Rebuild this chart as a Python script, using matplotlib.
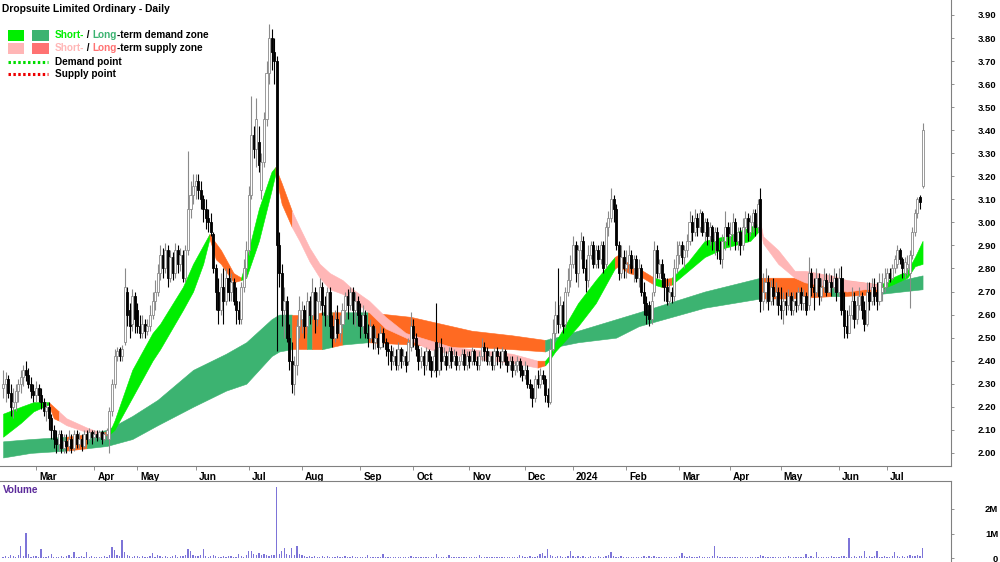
import matplotlib
matplotlib.use('Agg')
import matplotlib.pyplot as plt
import numpy as np
from matplotlib.lines import Line2D
from matplotlib.patches import Rectangle
import matplotlib.transforms as mtransforms

plt.rcParams['font.family'] = ['Liberation Sans', 'DejaVu Sans']

# ---------------- data ----------------
month_labels = ['', 'Mar', 'Apr', 'May', 'Jun', 'Jul', 'Aug', 'Sep', 'Oct', 'Nov', 'Dec',
                '2024', 'Feb', 'Mar', 'Apr', 'May', 'Jun', 'Jul']
month_days = [13, 23, 17, 23, 21, 21, 23, 21, 22, 22, 19, 21, 21, 20, 20, 23, 19, 15]

opens = [
    2.28,2.30,2.32,2.26,2.20,2.22,2.27,2.30,2.33,2.36,2.34,2.30,2.27,
    2.25,2.28,2.25,2.22,2.18,2.20,2.15,2.10,2.06,2.04,2.08,2.02,2.05,2.03,2.06,2.02,2.08,2.04,2.06,2.03,2.08,2.06,2.09,
    2.07,2.08,2.07,2.09,2.06,2.08,2.06,2.18,2.30,2.42,2.45,2.42,2.48,2.70,2.62,2.56,2.68,
    2.62,2.55,2.52,2.56,2.53,2.55,2.60,2.66,2.70,2.78,2.86,2.80,2.88,2.76,2.85,2.78,2.88,2.82,2.86,2.76,2.88,3.06,3.12,
    3.16,3.18,3.14,3.10,3.06,3.02,3.00,2.95,2.80,2.70,2.62,2.72,2.66,2.76,2.70,2.74,2.66,2.62,2.58,2.72,2.80,
    2.88,3.12,3.38,3.32,3.35,3.14,3.26,3.45,3.65,3.80,3.74,3.70,2.90,2.78,2.62,2.66,2.50,2.40,2.30,2.38,2.55,
    2.58,2.62,2.55,2.66,2.60,2.70,2.58,2.66,2.72,2.64,2.60,2.70,2.55,2.50,2.58,2.52,2.56,2.62,2.68,2.64,2.70,2.62,2.66,
    2.60,2.55,2.60,2.52,2.50,2.55,2.48,2.50,2.46,2.52,2.48,2.45,2.44,2.40,2.42,2.38,2.45,2.40,2.42,2.40,2.46,
    2.55,2.50,2.45,2.40,2.42,2.38,2.44,2.40,2.36,2.48,2.36,2.46,2.40,2.42,2.38,2.44,2.40,2.42,2.38,2.40,2.43,2.38,
    2.42,2.40,2.44,2.40,2.38,2.42,2.46,2.44,2.40,2.42,2.38,2.44,2.42,2.40,2.44,2.40,2.38,2.40,2.36,2.38,2.40,2.36,
    2.34,2.36,2.30,2.28,2.24,2.32,2.30,2.34,2.32,2.25,2.22,2.45,2.52,2.60,2.56,2.64,2.56,2.70,2.75,
    2.82,2.90,2.78,2.88,2.92,2.80,2.75,2.86,2.90,2.82,2.88,2.84,2.90,2.82,2.98,3.02,3.10,3.06,2.90,2.78,2.85,
    2.80,2.82,2.86,2.80,2.84,2.76,2.80,2.70,2.65,2.64,2.58,2.70,2.88,2.78,2.82,2.76,2.72,2.66,2.70,2.68,2.80,
    2.86,2.90,2.85,2.88,2.92,3.00,2.96,3.02,2.98,3.04,2.96,3.00,2.94,2.98,2.92,2.96,2.88,2.84,2.92,2.98,
    2.94,2.95,3.00,2.92,2.96,2.90,2.98,3.02,2.96,3.00,3.04,2.98,3.10,2.66,2.70,2.74,2.66,2.72,2.68,2.70,
    2.64,2.62,2.66,2.64,2.68,2.62,2.66,2.64,2.70,2.65,2.68,2.64,2.78,2.72,2.70,2.76,2.68,2.72,2.75,2.70,2.74,2.72,2.76,
    2.70,2.76,2.62,2.55,2.52,2.60,2.66,2.58,2.64,2.68,2.62,2.56,2.70,2.66,2.72,2.70,2.66,2.70,2.72,
    2.74,2.78,2.76,2.80,2.82,2.88,2.84,2.78,2.80,2.78,2.86,2.96,3.04,3.11,3.16,
]
highs = [
    2.36,2.35,2.34,2.30,2.28,2.30,2.32,2.36,2.38,2.40,2.37,2.33,2.30,
    2.31,2.30,2.28,2.24,2.22,2.22,2.17,2.12,2.10,2.10,2.10,2.08,2.08,2.10,2.08,2.10,2.10,2.09,2.08,2.10,2.10,2.11,2.10,
    2.10,2.10,2.10,2.10,2.09,2.11,2.20,2.32,2.45,2.46,2.46,2.47,2.80,2.72,2.65,2.71,2.70,
    2.65,2.60,2.60,2.58,2.58,2.64,2.70,2.75,2.82,2.90,2.89,2.91,2.90,2.88,2.87,2.91,2.90,2.89,2.88,2.90,3.31,3.18,3.21,
    3.21,3.21,3.18,3.12,3.10,3.06,3.04,2.96,2.82,2.76,2.78,2.80,2.80,2.80,2.78,2.76,2.72,2.66,2.74,2.84,2.92,
    3.16,3.55,3.42,3.54,3.42,3.30,3.48,3.70,3.86,3.84,3.80,3.72,2.96,2.82,2.72,2.68,2.56,2.48,2.42,2.58,2.68,
    2.66,2.64,2.70,2.68,2.76,2.72,2.70,2.76,2.74,2.68,2.72,2.72,2.60,2.62,2.64,2.60,2.65,2.70,2.71,2.72,2.72,2.70,2.68,
    2.65,2.64,2.62,2.56,2.58,2.56,2.54,2.52,2.55,2.54,2.50,2.48,2.47,2.46,2.45,2.48,2.46,2.45,2.44,2.50,2.61,
    2.58,2.52,2.47,2.46,2.44,2.46,2.45,2.42,2.45,2.65,2.48,2.50,2.46,2.44,2.46,2.46,2.45,2.44,2.42,2.45,2.45,2.44,
    2.44,2.46,2.45,2.42,2.44,2.50,2.48,2.46,2.44,2.44,2.46,2.46,2.44,2.46,2.45,2.42,2.42,2.42,2.40,2.42,2.41,2.38,
    2.40,2.38,2.32,2.30,2.34,2.36,2.37,2.36,2.34,2.28,2.50,2.58,2.66,2.80,2.68,2.66,2.72,2.80,2.86,
    2.94,2.92,2.90,2.96,2.94,2.84,2.90,2.92,2.92,2.90,2.90,2.92,2.92,3.00,3.05,3.15,3.12,3.08,2.92,2.90,2.88,
    2.88,2.90,2.88,2.86,2.86,2.84,2.82,2.74,2.68,2.66,2.70,2.92,2.90,2.84,2.84,2.78,2.76,2.74,2.72,2.84,2.92,
    2.92,2.92,2.90,2.95,3.05,3.03,3.06,3.04,3.06,3.05,3.02,3.02,3.00,2.99,2.98,2.98,2.92,2.95,3.05,3.00,
    3.00,3.04,3.02,2.98,2.98,3.02,3.05,3.04,3.03,3.06,3.06,3.10,3.15,2.78,2.80,2.77,2.75,2.76,2.74,2.72,
    2.72,2.70,2.70,2.71,2.70,2.70,2.70,2.72,2.72,2.71,2.70,2.85,2.80,2.76,2.80,2.78,2.76,2.80,2.78,2.78,2.77,2.80,2.78,
    2.80,2.81,2.70,2.62,2.64,2.72,2.70,2.68,2.72,2.70,2.66,2.74,2.74,2.76,2.76,2.74,2.78,2.78,2.80,
    2.80,2.80,2.82,2.86,2.90,2.89,2.85,2.85,2.86,2.88,2.98,3.06,3.11,3.12,3.43,
]
lows = [
    2.24,2.22,2.24,2.16,2.15,2.18,2.22,2.26,2.29,2.31,2.28,2.24,2.22,
    2.22,2.22,2.19,2.16,2.14,2.10,2.06,2.02,2.00,2.01,2.00,2.00,2.00,2.01,2.00,2.01,2.02,2.02,2.01,2.02,2.04,2.05,2.04,
    2.05,2.05,2.06,2.04,2.05,2.06,2.00,2.16,2.28,2.40,2.40,2.40,2.47,2.55,2.50,2.53,2.52,
    2.52,2.50,2.50,2.50,2.51,2.53,2.58,2.62,2.68,2.75,2.76,2.78,2.72,2.74,2.75,2.76,2.78,2.79,2.74,2.74,2.86,3.02,3.08,
    3.10,3.10,3.06,3.00,2.97,2.96,2.94,2.78,2.62,2.56,2.60,2.56,2.64,2.66,2.66,2.64,2.56,2.56,2.56,2.70,2.76,
    2.86,3.10,3.28,3.24,3.22,3.10,3.24,3.42,3.60,3.66,3.60,2.44,2.72,2.55,2.50,2.48,2.36,2.26,2.25,2.34,2.50,
    2.52,2.50,2.52,2.56,2.58,2.52,2.55,2.62,2.60,2.55,2.58,2.50,2.46,2.48,2.50,2.48,2.54,2.58,2.58,2.62,2.56,2.55,2.55,
    2.50,2.52,2.50,2.46,2.48,2.45,2.45,2.43,2.45,2.46,2.42,2.38,2.36,2.38,2.36,2.36,2.37,2.38,2.35,2.38,2.44,
    2.46,2.42,2.36,2.37,2.34,2.36,2.36,2.33,2.35,2.33,2.34,2.36,2.38,2.36,2.37,2.37,2.38,2.36,2.36,2.38,2.36,2.36,
    2.37,2.38,2.38,2.36,2.36,2.40,2.40,2.38,2.38,2.36,2.36,2.38,2.37,2.38,2.38,2.35,2.36,2.33,2.34,2.35,2.33,2.31,
    2.32,2.28,2.24,2.20,2.22,2.28,2.28,2.30,2.22,2.20,2.21,2.44,2.50,2.52,2.54,2.52,2.54,2.68,2.72,
    2.80,2.74,2.72,2.84,2.78,2.70,2.72,2.84,2.80,2.80,2.80,2.82,2.78,2.80,2.94,3.00,3.00,2.88,2.75,2.76,2.76,
    2.76,2.78,2.78,2.74,2.74,2.72,2.68,2.60,2.56,2.55,2.56,2.68,2.76,2.76,2.72,2.66,2.64,2.64,2.65,2.66,2.78,
    2.82,2.82,2.80,2.85,2.90,2.92,2.94,2.94,2.96,2.94,2.92,2.90,2.90,2.88,2.86,2.84,2.82,2.80,2.88,2.90,
    2.88,2.92,2.88,2.88,2.86,2.88,2.95,2.92,2.94,2.96,2.94,2.96,2.61,2.62,2.65,2.62,2.64,2.64,2.64,2.60,
    2.58,2.56,2.60,2.62,2.60,2.60,2.61,2.62,2.62,2.62,2.60,2.62,2.68,2.62,2.68,2.64,2.66,2.70,2.68,2.70,2.68,2.70,2.66,
    2.68,2.60,2.50,2.50,2.52,2.58,2.54,2.56,2.62,2.58,2.53,2.55,2.62,2.64,2.64,2.62,2.64,2.66,2.70,
    2.72,2.74,2.75,2.78,2.80,2.82,2.76,2.76,2.77,2.63,2.84,2.94,3.02,3.06,3.15,
]
closes = [
    2.30,2.32,2.26,2.20,2.22,2.27,2.30,2.33,2.36,2.34,2.30,2.27,2.25,
    2.28,2.25,2.22,2.18,2.20,2.15,2.10,2.06,2.04,2.08,2.02,2.05,2.03,2.06,2.02,2.08,2.04,2.06,2.03,2.08,2.06,2.09,2.07,
    2.08,2.07,2.09,2.06,2.08,2.10,2.18,2.30,2.42,2.44,2.42,2.45,2.72,2.60,2.55,2.68,2.58,
    2.55,2.52,2.56,2.53,2.55,2.60,2.66,2.70,2.78,2.86,2.80,2.88,2.76,2.85,2.78,2.88,2.82,2.86,2.76,2.88,3.06,3.12,3.16,
    3.18,3.14,3.10,3.06,3.02,3.00,2.96,2.80,2.70,2.62,2.72,2.66,2.76,2.70,2.74,2.66,2.62,2.58,2.72,2.80,2.88,
    3.12,3.38,3.32,3.45,3.25,3.26,3.45,3.65,3.80,3.74,3.70,2.90,2.78,2.62,2.66,2.50,2.40,2.30,2.38,2.55,2.62,
    2.62,2.55,2.66,2.60,2.70,2.58,2.66,2.72,2.64,2.60,2.70,2.55,2.50,2.58,2.52,2.56,2.62,2.68,2.64,2.70,2.62,2.66,2.60,
    2.55,2.60,2.52,2.50,2.55,2.48,2.50,2.46,2.52,2.48,2.45,2.44,2.40,2.42,2.38,2.45,2.40,2.42,2.38,2.48,2.55,
    2.50,2.45,2.40,2.42,2.38,2.44,2.40,2.36,2.42,2.36,2.46,2.40,2.42,2.38,2.44,2.40,2.42,2.38,2.40,2.43,2.38,2.42,
    2.40,2.44,2.40,2.38,2.42,2.46,2.44,2.40,2.42,2.38,2.44,2.42,2.40,2.44,2.40,2.38,2.40,2.36,2.38,2.40,2.36,2.34,
    2.36,2.30,2.28,2.24,2.32,2.30,2.34,2.32,2.25,2.22,2.45,2.52,2.60,2.56,2.64,2.55,2.70,2.75,2.82,
    2.90,2.78,2.88,2.92,2.80,2.75,2.86,2.90,2.82,2.88,2.84,2.90,2.80,2.98,3.02,3.10,3.06,2.90,2.78,2.85,2.80,
    2.82,2.86,2.80,2.84,2.76,2.80,2.70,2.65,2.60,2.58,2.66,2.88,2.78,2.82,2.76,2.72,2.66,2.70,2.68,2.80,2.86,
    2.90,2.85,2.88,2.92,3.00,2.96,3.02,2.98,3.04,2.96,3.00,2.94,2.98,2.92,2.96,2.88,2.84,2.92,2.98,2.94,
    2.95,3.00,2.92,2.96,2.90,2.98,3.02,2.96,3.00,3.04,2.98,3.08,2.66,2.70,2.74,2.66,2.72,2.68,2.70,2.64,
    2.62,2.66,2.64,2.68,2.62,2.66,2.64,2.70,2.65,2.68,2.62,2.78,2.72,2.70,2.76,2.68,2.72,2.75,2.70,2.74,2.72,2.76,2.70,
    2.76,2.62,2.55,2.52,2.60,2.66,2.58,2.64,2.68,2.62,2.56,2.70,2.66,2.72,2.68,2.66,2.74,2.72,2.76,
    2.78,2.76,2.80,2.84,2.88,2.84,2.80,2.83,2.82,2.86,2.96,3.04,3.10,3.09,3.40,
]
volumes_k = [
    60,90,40,120,70,50,110,470,80,1040,150,60,90,
    70,50,360,60,40,80,160,50,30,60,90,40,70,110,60,230,50,40,80,60,230,50,70,
    40,60,30,50,80,60,120,450,340,130,90,750,240,110,80,60,90,
    70,50,90,60,40,80,200,60,110,70,50,90,60,40,80,130,60,90,70,110,380,300,120,
    90,70,110,380,80,60,90,140,70,60,50,80,60,90,70,50,60,160,80,60,110,
    300,270,150,120,200,110,160,130,90,140,120,2900,180,300,400,150,110,400,120,500,160,
    110,80,60,90,50,70,40,60,80,50,70,60,40,50,70,60,40,80,50,60,70,40,50,
    40,60,50,130,40,30,60,50,40,160,50,30,40,60,30,50,40,60,30,40,90,
    60,40,30,50,40,30,60,40,50,160,60,40,30,50,130,40,30,50,40,30,50,40,
    40,30,50,40,130,30,40,60,30,40,50,30,40,30,60,40,30,50,40,60,130,70,
    60,40,80,60,50,90,150,200,100,350,120,80,60,90,70,50,60,80,270,
    90,60,80,50,70,60,40,80,50,60,70,40,60,80,120,230,90,60,50,70,40,
    50,40,60,30,50,40,60,80,50,70,40,90,60,40,50,30,60,40,50,30,60,
    90,200,100,60,80,50,40,60,70,50,40,60,50,80,470,90,60,50,40,60,
    50,40,60,30,50,40,30,60,40,50,30,60,130,80,50,40,60,30,50,40,
    50,40,60,70,50,40,60,50,40,60,160,50,70,40,230,60,50,40,60,50,70,40,60,
    60,90,70,50,810,60,80,50,90,70,270,60,80,50,70,270,60,50,80,
    60,50,80,230,70,50,90,60,80,120,90,70,110,90,400,
]

# short-term zone: key trading-day positions, upper / lower edges, zone type of following span
st_pos = [0, 7, 12, 18, 20, 22, 25, 33, 38, 42, 44, 51, 59, 62, 71, 75, 79, 81.5, 84, 86, 91, 94, 96,
          101, 106, 107.5, 110, 114, 117, 121, 125, 129, 134, 138, 144.5, 151, 159, 168, 177, 185,
          201, 211, 214, 215.5, 218, 227, 234, 241.5, 243, 247, 251, 257, 260, 264, 270.5, 277, 285,
          295, 299, 300, 306, 312.5, 316.5, 327, 333, 340, 346.5, 351, 357, 360, 363]
st_top = [2.17, 2.20, 2.22, 2.22, 2.20, 2.18, 2.15, 2.11, 2.09, 2.09, 2.14, 2.36, 2.52, 2.56, 2.72, 2.82,
          2.90, 2.95, 2.91, 2.88, 2.78, 2.76, 2.84, 3.06, 3.22, 3.24, 3.17, 3.05, 2.98, 2.89, 2.82, 2.78,
          2.75, 2.71, 2.66, 2.59, 2.52, 2.49, 2.46, 2.45, 2.43, 2.40, 2.40, 2.42, 2.48, 2.65, 2.75, 2.85,
          2.86, 2.82, 2.80, 2.76, 2.75, 2.76, 2.83, 2.92, 2.94, 2.98, 3.00, 2.94, 2.88, 2.79, 2.79, 2.77,
          2.75, 2.74, 2.73, 2.76, 2.79, 2.85, 2.92]
st_bot = [2.07, 2.13, 2.18, 2.21, 2.15, 2.14, 2.12, 2.09, 2.07, 2.08, 2.10, 2.24, 2.40, 2.45, 2.62, 2.70,
          2.82, 2.93, 2.84, 2.82, 2.74, 2.75, 2.76, 2.92, 3.14, 3.21, 3.08, 2.98, 2.92, 2.83, 2.76, 2.71,
          2.69, 2.66, 2.61, 2.54, 2.50, 2.45, 2.43, 2.41, 2.39, 2.37, 2.38, 2.40, 2.44, 2.55, 2.65, 2.80,
          2.81, 2.78, 2.77, 2.73, 2.72, 2.73, 2.79, 2.85, 2.89, 2.92, 2.97, 2.91, 2.82, 2.76, 2.74, 2.72,
          2.70, 2.71, 2.71, 2.73, 2.76, 2.81, 2.82]
st_kind = ['D', 'D', 'D', 'S', 'S', 'W', 'W', 'W', 'S', 'D', 'D', 'D', 'D', 'D', 'D', 'D', 'D', 'S', 'S',
           'S', 'S', 'D', 'D', 'D', 'D', 'S', 'S', 'W', 'W', 'W', 'W', 'W', 'W', 'W', 'W', 'W', 'W', 'W',
           'W', 'W', 'W', 'S', 'D', 'D', 'D', 'D', 'D', 'S', 'S', 'S', 'S', 'D', 'S', 'D', 'D', 'D', 'D',
           'D', 'W', 'W', 'W', 'W', 'W', 'W', 'W', 'W', 'D', 'D', 'D', 'D', '']

# long-term zone
lt_pos = [0, 11, 25, 33, 41, 51, 61, 75, 88, 96, 106, 109, 114, 120, 122, 126, 130, 134, 144, 161,
          177, 185, 201, 214, 218, 227, 242, 251, 277, 299, 311, 327, 331, 346.5, 363]
lt_top = [2.05, 2.06, 2.07, 2.08, 2.10, 2.16, 2.23, 2.36, 2.43, 2.48, 2.58, 2.60, 2.60, 2.60, 2.60,
          2.61, 2.61, 2.61, 2.61, 2.59, 2.55, 2.53, 2.51, 2.49, 2.50, 2.53, 2.58, 2.61, 2.70, 2.76,
          2.76, 2.76, 2.75, 2.73, 2.77]
lt_bot = [1.98, 2.00, 2.01, 2.02, 2.03, 2.06, 2.12, 2.20, 2.27, 2.30, 2.42, 2.44, 2.45, 2.45, 2.45,
          2.45, 2.46, 2.47, 2.48, 2.47, 2.46, 2.46, 2.45, 2.44, 2.46, 2.48, 2.50, 2.55, 2.63, 2.67,
          2.67, 2.68, 2.68, 2.69, 2.71]
lt_kind = ['D', 'D', 'S', 'D', 'D', 'D', 'D', 'D', 'D', 'D', 'D', 'D', 'S', 'D', 'S', 'D', 'S', 'D',
           'S', 'S', 'S', 'S', 'S', 'D', 'D', 'D', 'D', 'D', 'D', 'S', 'S', 'D', 'S', 'D', '']

price_ticks = [2.00, 2.10, 2.20, 2.30, 2.40, 2.50, 2.60, 2.70, 2.80, 2.90, 3.00, 3.10, 3.20,
               3.30, 3.40, 3.50, 3.60, 3.70, 3.80, 3.90]
volume_ticks = [0, 1e6, 2e6]
volume_tick_labels = ['0', '1M', '2M']

# ---------------- styling ----------------
W, H = 1000, 562
C_DEMAND_ST = '#00ee00'
C_DEMAND_LT = '#3cb371'
C_SUPPLY_STRONG = '#ff6a22'
C_SUPPLY_ST = '#ffb6b6'
C_SUPPLY_LT = '#ff7272'
AX_GREY = '#808080'
TXT = 7.2
YTXT = 6.8

fig = plt.figure(figsize=(W / 100, H / 100), dpi=100)
ax = fig.add_axes([0, 1 - 466 / H, 951 / W, 466 / H])
axv = fig.add_axes([0, 0, 951 / W, 81 / H])

n = len(closes)
x = np.arange(n)
O = np.array(opens); Hh = np.array(highs); L = np.array(lows); C = np.array(closes)
V = np.array(volumes_k) * 1000.0

x_left = -3.07 / 2.533
x_right = x_left + 951 / 2.533


def draw_band(a, pos, top, bot, kind, cmap, z):
    i = 0
    m = len(pos)
    while i < m - 1:
        j = i
        while j + 1 < m - 1 and kind[j + 1] == kind[i]:
            j += 1
        col = cmap[kind[i]]
        a.fill_between(pos[i:j + 2], top[i:j + 2], bot[i:j + 2], facecolor=col,
                       edgecolor=col, linewidth=0.4, zorder=z)
        i = j + 1


draw_band(ax, lt_pos, lt_top, lt_bot, lt_kind,
          {'D': C_DEMAND_LT, 'S': C_SUPPLY_STRONG, 'W': C_SUPPLY_ST}, 1)
draw_band(ax, st_pos, st_top, st_bot, st_kind,
          {'D': C_DEMAND_ST, 'S': C_SUPPLY_STRONG, 'W': C_SUPPLY_ST}, 2)

# candles
up = C >= O
wick_cols = np.where(up, '#8a8a8a', '#000000')
ax.vlines(x, np.minimum(L, np.minimum(O, C)), np.maximum(Hh, np.maximum(O, C)),
          colors=wick_cols, linewidth=0.8, zorder=3)
body_h = np.maximum(np.abs(C - O), 0.004)
ax.bar(x, body_h, bottom=np.minimum(O, C), width=0.8,
       color=np.where(up, '#ffffff', '#000000'), edgecolor=np.where(up, '#8a8a8a', '#000000'),
       linewidth=0.6, zorder=4)

ax.set_xlim(x_left, x_right)
ax.set_ylim(1.943, 3.965)
for s in ['left', 'top']:
    ax.spines[s].set_visible(False)
for s in ['right', 'bottom']:
    ax.spines[s].set_color(AX_GREY)
    ax.spines[s].set_linewidth(0.8)
ax.yaxis.tick_right()
ax.set_yticks(price_ticks)
ax.set_yticklabels(['%.2f' % t for t in price_ticks], ha='right')
ax.tick_params(axis='y', direction='out', length=2.5, width=0.6, color=AX_GREY, pad=30,
               labelsize=YTXT)
for t in ax.get_yticklabels():
    t.set_fontweight('bold')

starts = np.cumsum([0] + month_days[:-1])
tick_pos = [s for s, lab in zip(starts, month_labels) if lab]
tick_lab = [lab for lab in month_labels if lab]
ax.set_xticks(tick_pos)
ax.set_xticklabels(tick_lab, ha='left')
ax.tick_params(axis='x', direction='out', length=3, width=0.6, color=AX_GREY, pad=1,
               labelsize=TXT)
offset = mtransforms.ScaledTranslation(3 / 100, 0, fig.dpi_scale_trans)
for t in ax.get_xticklabels():
    t.set_fontweight('bold')
    t.set_transform(t.get_transform() + offset)

# volume
axv.bar(x, V, width=0.5, color='#7d74d8', linewidth=0, zorder=2)
axv.set_xlim(x_left, x_right)
axv.set_ylim(-4 / 24.5 * 1e6, 77 / 24.5 * 1e6)
axv.set_xticks([])
for s in ['left', 'bottom']:
    axv.spines[s].set_visible(False)
for s in ['right', 'top']:
    axv.spines[s].set_color(AX_GREY)
    axv.spines[s].set_linewidth(0.8)
axv.yaxis.tick_right()
axv.set_yticks(volume_ticks)
axv.set_yticklabels(volume_tick_labels, ha='right')
axv.tick_params(axis='y', direction='out', length=2.5, width=0.6, color=AX_GREY, pad=31.5,
                labelsize=YTXT)
for t in axv.get_yticklabels():
    t.set_fontweight('bold')
fig.text(3 / W, 1 - 490 / H, 'Volume', color='#5b2a9a', fontsize=TXT, fontweight='bold',
         va='center', ha='left')

# title & legend
fig.text(2 / W, 1 - 9 / H, 'Dropsuite Limited Ordinary - Daily', fontsize=TXT + 0.2,
         fontweight='bold', va='center', ha='left', color='black')


def multi_text(x_px, y_px, parts):
    prev = ax.annotate(parts[0][0], xy=(x_px, H - y_px), xycoords='figure pixels',
                       va='center', ha='left', color=parts[0][1], fontsize=TXT,
                       fontweight='bold', annotation_clip=False)
    for s, c in parts[1:]:
        prev = ax.annotate(s, xy=(1, 0.5), xycoords=prev, va='center', ha='left', color=c,
                           fontsize=TXT, fontweight='bold', annotation_clip=False)


def swatch(x0, x1, y_px, col):
    fig.add_artist(Rectangle((x0 / W, 1 - (y_px + 5.5) / H), (x1 - x0) / W, 11 / H,
                             transform=fig.transFigure, facecolor=col, edgecolor='none'))


swatch(8, 24, 35, C_DEMAND_ST)
swatch(32, 49, 35, C_DEMAND_LT)
multi_text(55, 35, [('Short-', C_DEMAND_ST), (' / ', 'black'), ('Long', C_DEMAND_LT),
                    ('-term demand zone', 'black')])
swatch(8, 24, 48, C_SUPPLY_ST)
swatch(32, 49, 48, C_SUPPLY_LT)
multi_text(55, 48, [('Short-', C_SUPPLY_ST), (' / ', 'black'), ('Long', C_SUPPLY_LT),
                    ('-term supply zone', 'black')])
fig.add_artist(Line2D([8 / W, 48 / W], [1 - 62 / H] * 2, color='#00dd00', linewidth=2.2,
                      linestyle=(0, (0.8, 0.8)), transform=fig.transFigure))
multi_text(55, 62, [('Demand point', 'black')])
fig.add_artist(Line2D([8 / W, 48 / W], [1 - 74 / H] * 2, color='#ee0000', linewidth=2.2,
                      linestyle=(0, (0.8, 0.8)), transform=fig.transFigure))
multi_text(55, 74, [('Supply point', 'black')])

fig.savefig('out.png', dpi=100)
